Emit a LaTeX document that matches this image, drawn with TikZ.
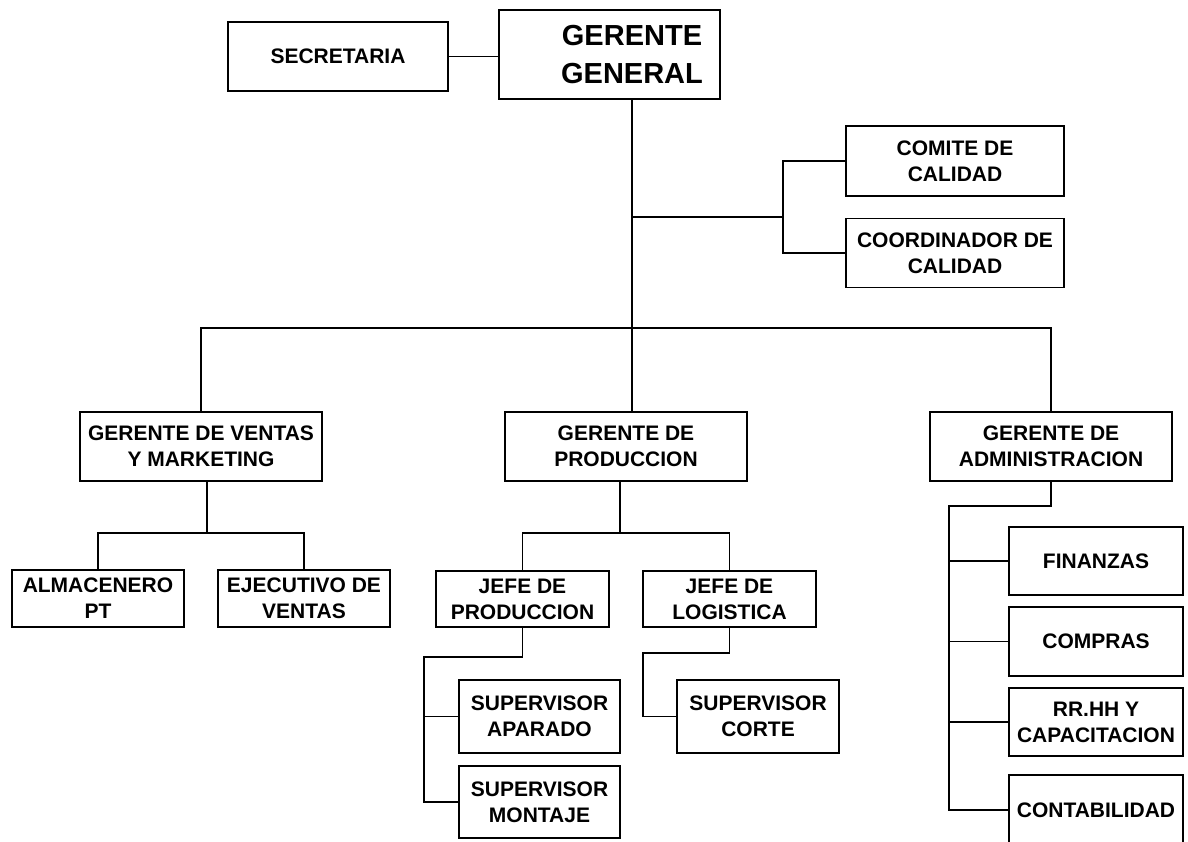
\documentclass[tikz,border=0pt]{standalone}
\usepackage{fontspec}
\setmainfont{Liberation Sans}
\usetikzlibrary{calc}
\newcommand{\clrline}{black}
\tikzset{
    box/.style 2 args={draw=\clrline, line width=1.4pt, inner sep=0pt, align=center,
        font=\bfseries\fontsize{21}{26}\selectfont,
        minimum width=#1pt, minimum height=#2pt},
    conn/.style={draw=\clrline, line width=1.4pt}
}

\begin{document}
\begin{tikzpicture}[x=1pt, y=-1pt]
    \useasboundingbox (0,0) rectangle (1188,842);
    %top level
        \node[box={221}{89}, font=\bfseries\fontsize{29}{38}\selectfont] (gg) at (609.5,54.5)
            {\hspace*{45pt}GERENTE\\\hspace*{45pt}GENERAL};
        \node[box={220}{69}] (sec) at (338,56.5) {SECRETARIA};
        \node[box={218}{70}] (comite) at (955,161) {COMITE DE\\CALIDAD};
        \node[box={218}{69}] (coord) at (955,253) {COORDINADOR DE\\CALIDAD};
    %managers
        \node[box={242}{69}] (gvm) at (201,446.5) {GERENTE DE VENTAS\\Y MARKETING};
        \node[box={242}{69}] (gp) at (626,446.5) {GERENTE DE\\PRODUCCION};
        \node[box={242}{69}] (ga) at (1051,446.5) {GERENTE DE\\ADMINISTRACION};
    %ventas
        \node[box={172}{57}] (alm) at (98,598.5) {ALMACENERO\\PT};
        \node[box={172}{57}] (eje) at (304,598.5) {EJECUTIVO DE\\VENTAS};
    %produccion
        \node[box={173}{56}] (jp) at (522.5,599) {JEFE DE\\PRODUCCION};
        \node[box={173}{56}] (jl) at (729.5,599) {JEFE DE\\LOGISTICA};
        \node[box={161}{73}] (sapa) at (539.5,716.5) {SUPERVISOR\\APARADO};
        \node[box={161}{72}] (smon) at (539.5,802) {SUPERVISOR\\MONTAJE};
        \node[box={162}{73}] (scor) at (758,716.5) {SUPERVISOR\\CORTE};
    %administracion
        \node[box={174}{68}] (fin) at (1096,561) {FINANZAS};
        \node[box={174}{69}] (comp) at (1096,641.5) {COMPRAS};
        \node[box={174}{68}] (rrhh) at (1096,722) {RR.HH Y\\CAPACITACION};
        \node[box={174}{70}] (cont) at (1096,810) {CONTABILIDAD};

    %junction points
        \coordinate (bus) at (632,328);
        \coordinate (q) at (632,217);
        \coordinate (qv) at (783,217);
        \coordinate (vm) at (207,533);
        \coordinate (pm) at (620,533);
        \coordinate (jpc) at (424,657);
        \coordinate (jlc) at (643,653);
        \coordinate (gac) at (949,506);

    %gerente general
        \draw[conn] (sec.east) -- (sec.east -| gg.west);
        \draw[conn] (bus |- gg.south) -- (bus);
        \draw[conn] (q) -- (qv);
        \draw[conn] (comite.west) -| (qv) |- (coord.west);
    %bus to managers
        \draw[conn] (gvm.north) |- (bus) -| (ga.north);
        \draw[conn] (bus) -- (bus |- gp.north);
    %ventas
        \draw[conn] (vm |- gvm.south) -- (vm);
        \draw[conn] (alm.north) |- (vm) -| (eje.north);
    %produccion
        \draw[conn] (pm |- gp.south) -- (pm);
        \draw[conn] (jp.north) |- (pm) -| (jl.north);
        \draw[conn] (jp.south) |- (jpc) |- (smon.west);
        \draw[conn] (sapa.west) -- (sapa.west -| jpc);
        \draw[conn] (jl.south) |- (jlc) |- (scor.west);
    %administracion
        \draw[conn] (ga.south) |- (gac) |- (cont.west);
        \foreach \n in {fin,comp,rrhh} {
            \draw[conn] (\n.west) -- (\n.west -| gac);
        }
\end{tikzpicture}
\end{document}
